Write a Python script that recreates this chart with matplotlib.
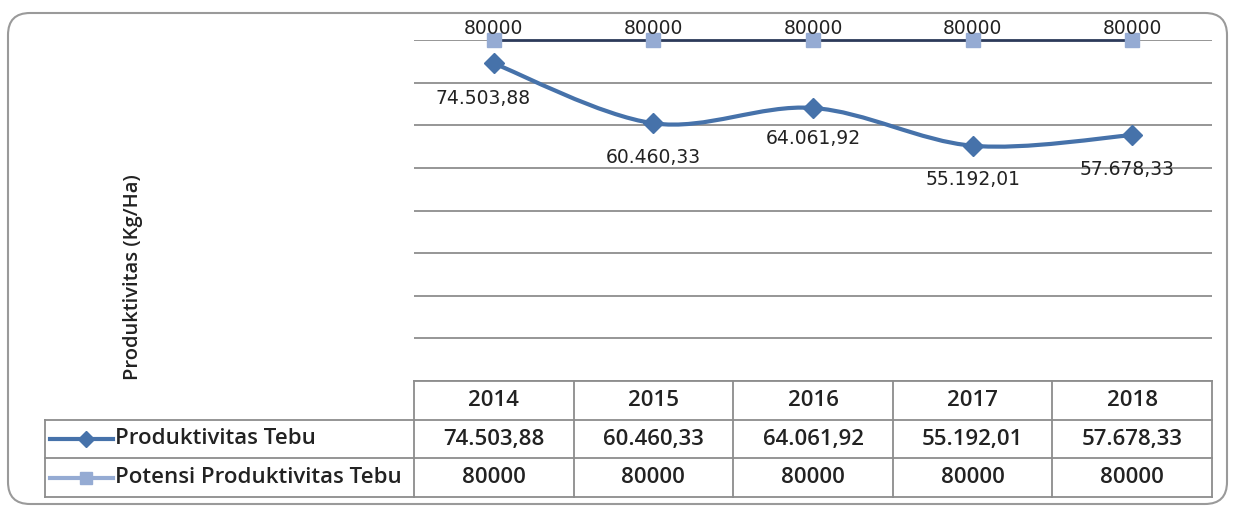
# ==========================================
# Step 1: Importing Dependencies
# ==========================================
import numpy as np
import matplotlib.pyplot as plt
from matplotlib.path import Path
from matplotlib.patches import PathPatch, FancyBboxPatch

# ==========================================
# Step 2: Data
# ==========================================
years = ['2014', '2015', '2016', '2017', '2018']
produktivitas = [74503.88, 60460.33, 64061.92, 55192.01, 57678.33]
potensi = [80000, 80000, 80000, 80000, 80000]
series_names = ['Produktivitas Tebu', 'Potensi Produktivitas Tebu']
y_label = 'Produktivitas (Kg/Ha)'


def fmt_id(v):
    # Indonesian style: dot for thousands, comma for decimals
    s = f"{v:,.2f}"
    return s.replace(',', 'X').replace('.', ',').replace('X', '.')


# colours
c_prod = '#4672aa'
c_pot = '#95abd3'
c_pot_line = '#2c3a5a'
c_grid = '#8e8e8e'

W, H = 1235, 508
fig = plt.figure(figsize=(W / 100, H / 100), dpi=100)

# overlay axes in pixel coordinates (border, table, labels)
bg = fig.add_axes([0, 0, 1, 1])
bg.set_xlim(0, W)
bg.set_ylim(H, 0)
bg.axis('off')

bg.add_patch(FancyBboxPatch((8, 13), 1219, 491, boxstyle='round,pad=0,rounding_size=22',
                            fc='white', ec='#9a9a9a', lw=1.5))

# ==========================================
# Step 3: Chart area
# ==========================================
left, right, top, bottom = 414, 1212, 40, 381
ax = fig.add_axes([left / W, 1 - bottom / H, (right - left) / W, (bottom - top) / H])
ax.patch.set_alpha(0)
ax.set_xlim(-0.5, len(years) - 0.5)
ax.set_ylim(0, 80000)
ax.set_yticks(np.arange(0, 80001, 10000))
ax.grid(axis='y', color=c_grid, lw=1.3)
ax.set_axisbelow(True)
for s in ax.spines.values():
    s.set_visible(False)
ax.tick_params(left=False, bottom=False, labelleft=False, labelbottom=False)

x = np.arange(len(years))

# smoothed line (Catmull-Rom style Bezier, like Excel's smoothing)
pts = np.column_stack([x, produktivitas])
verts = [tuple(pts[0])]
codes = [Path.MOVETO]
n = len(pts)
for i in range(n - 1):
    p0 = pts[max(i - 1, 0)]
    p1 = pts[i]
    p2 = pts[i + 1]
    p3 = pts[min(i + 2, n - 1)]
    c1 = p1 + (p2 - p0) / 6
    c2 = p2 - (p3 - p1) / 6
    verts += [tuple(c1), tuple(c2), tuple(p2)]
    codes += [Path.CURVE4] * 3
ax.add_patch(PathPatch(Path(verts, codes), fc='none', ec=c_prod, lw=3, zorder=3))
ax.plot(x, produktivitas, 'D', color=c_prod, ms=10, zorder=4, clip_on=False)

ax.plot(x, potensi, '-', color=c_pot_line, lw=2, zorder=3, clip_on=False)
ax.plot(x, potensi, 's', color=c_pot, ms=10, zorder=4, clip_on=False)

# data labels
prod_offsets = [(-11, -35), (0, -34), (0, -31), (0, -34), (-5, -34)]
for xi, v, off in zip(x, produktivitas, prod_offsets):
    ax.annotate(fmt_id(v), (xi, v), xytext=off, textcoords='offset pixels',
                ha='center', va='center', fontsize=13.5, color='#222222', zorder=5)
for xi, v in zip(x, potensi):
    ax.annotate(str(int(v)), (xi, v), xytext=(0, 11), textcoords='offset pixels',
                ha='center', va='center', fontsize=13.5, color='#222222', zorder=5)

# y axis title
bg.text(133, 277, y_label, rotation=90, ha='center', va='center',
        fontsize=14.5, fontweight='semibold', family='Open Sans', color='#222222')

# ==========================================
# Step 4: Data table under the chart
# ==========================================
col_edges = np.linspace(left, right, len(years) + 1)
row_edges = [381, 420, 458, 497]
tbl_left = 45
tc = '#8c8c8c'
tkw = dict(ha='center', va='center', fontsize=16, fontweight='semibold',
           family='Open Sans', color='#222222')

# horizontal lines
bg.plot([left, right], [row_edges[0]] * 2, color=tc, lw=1.3)
for yy in row_edges[1:]:
    bg.plot([tbl_left, right], [yy, yy], color=tc, lw=1.3)
# vertical lines
bg.plot([tbl_left, tbl_left], [row_edges[1], row_edges[3]], color=tc, lw=1.3)
for xx in col_edges:
    bg.plot([xx, xx], [row_edges[0], row_edges[3]], color=tc, lw=1.3)

centers = (col_edges[:-1] + col_edges[1:]) / 2
rows_y = [(row_edges[i] + row_edges[i + 1]) / 2 for i in range(3)]
for cx, yr, a, b in zip(centers, years, produktivitas, potensi):
    bg.text(cx, rows_y[0], yr, **tkw)
    bg.text(cx, rows_y[1], fmt_id(a), **tkw)
    bg.text(cx, rows_y[2], str(int(b)), **tkw)

# legend keys inside the table
bg.plot([50, 113], [rows_y[1]] * 2, color=c_prod, lw=3)
bg.plot([86], [rows_y[1]], 'D', color=c_prod, ms=8)
bg.plot([50, 113], [rows_y[2]] * 2, color=c_pot, lw=3)
bg.plot([86], [rows_y[2]], 's', color=c_pot, ms=9)
for yy, name in zip(rows_y[1:], series_names):
    bg.text(115, yy, name, ha='left', va='center', fontsize=16, fontweight='semibold',
            family='Open Sans', color='#222222')

plt.savefig('out.png', dpi=100)
